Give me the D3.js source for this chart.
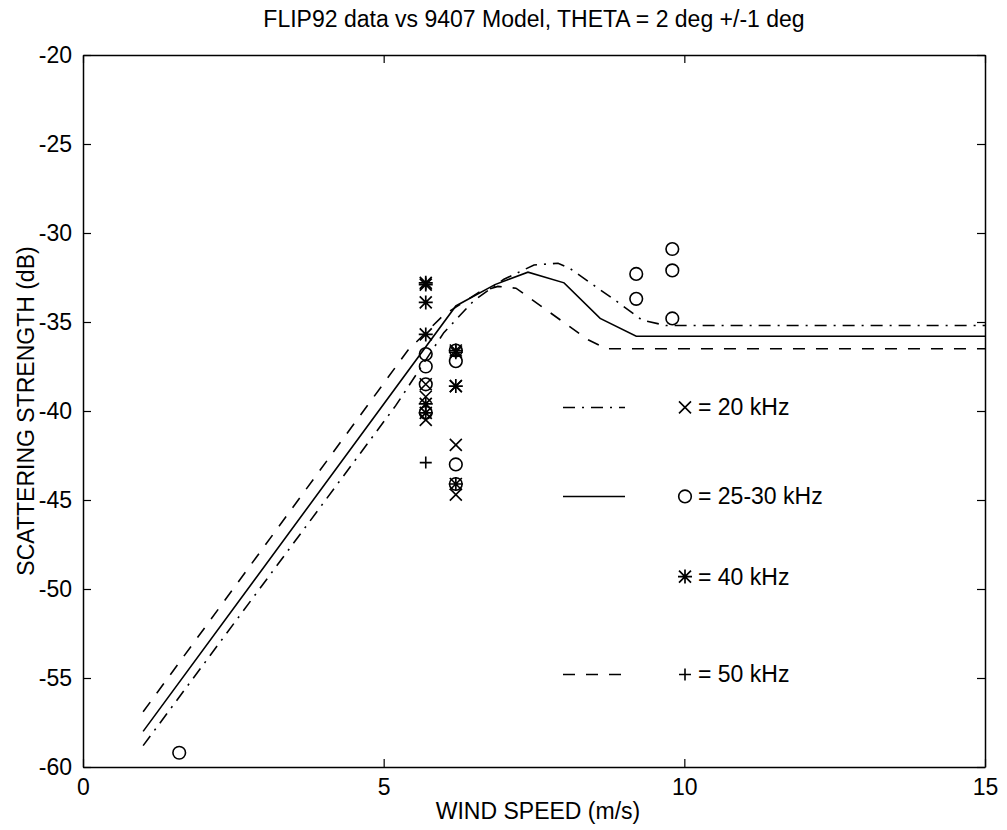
<!DOCTYPE html>
<html><head><meta charset="utf-8">
<script src="https://cdn.jsdelivr.net/npm/d3@7"></script>
<style>body{margin:0;background:#fff}svg{display:block}text{font-family:"Liberation Sans",Arial,Helvetica,sans-serif;fill:#000}</style>
</head><body><div id="chart"></div>
<script>
const titleText = "FLIP92 data vs 9407 Model, THETA = 2 deg +/-1 deg";
const xLabelText = "WIND SPEED (m/s)";
const yLabelText = "SCATTERING STRENGTH (dB)";
const xTicks = [0, 5, 10, 15];
const yTicks = [-20, -25, -30, -35, -40, -45, -50, -55, -60];

// model curves
const model20 = [[1,-58.8],[5.2,-39.7],[6.0,-35.6],[6.5,-33.8],[7.0,-32.6],[7.5,-31.8],[7.9,-31.7],[8.1,-32.0],[8.9,-33.9],[9.3,-34.9],[9.7,-35.2],[15,-35.2]];
const model25 = [[1,-58.0],[6.2,-34.1],[6.85,-32.9],[7.4,-32.2],[8.0,-32.8],[8.6,-34.8],[9.2,-35.8],[15,-35.8]];
const model50 = [[1,-56.9],[5.4,-36.6],[6.0,-34.6],[6.6,-33.3],[6.9,-33.0],[7.2,-33.1],[8.4,-36.0],[8.7,-36.5],[15,-36.5]];

// measured data
const data20 = [[5.7,-38.5],[5.7,-39.2],[5.7,-40.5],[6.2,-38.6],[6.2,-41.9],[6.2,-44.7]];
const data25 = [[1.6,-59.2],[5.7,-36.8],[5.7,-37.5],[5.7,-38.5],[5.7,-40.1],[6.2,-36.6],[6.2,-37.2],[6.2,-43.0],[6.2,-44.1],[9.2,-32.3],[9.2,-33.7],[9.8,-30.9],[9.8,-32.1],[9.8,-34.8]];
const data40 = [[5.7,-32.8],[5.7,-32.9],[5.7,-33.9],[5.7,-35.7],[5.7,-39.6],[5.7,-40.1],[6.2,-36.6],[6.2,-36.7],[6.2,-38.6],[6.2,-44.1]];
const data50 = [[5.7,-42.9]];

const legendLabels = ["= 20 kHz", "= 25-30 kHz", "= 40 kHz", "= 50 kHz"];
const legendY = [-39.8, -44.8, -49.3, -54.8];

const W = 1007, H = 830;
const m = {left: 83, right: 1007-985, top: 55, bottom: 830-767};
const FS = 23;
const svg = d3.select("#chart").append("svg").attr("width", W).attr("height", H);
const x = d3.scaleLinear().domain([0, 15]).range([m.left, W - m.right]);
const y = d3.scaleLinear().domain([-60, -20]).range([H - m.bottom, m.top]);

// axes box
const g = svg.append("g");
const fmt = d => String(d);
const axB = d3.axisBottom(x).tickValues(xTicks).tickSizeInner(-8).tickSizeOuter(0).tickPadding(12).tickFormat(fmt);
const axT = d3.axisTop(x).tickValues(xTicks).tickSizeInner(-8).tickSizeOuter(0).tickFormat("");
const axL = d3.axisLeft(y).tickValues(yTicks).tickSizeInner(-8).tickSizeOuter(0).tickPadding(11).tickFormat(fmt);
const axR = d3.axisRight(y).tickValues(yTicks).tickSizeInner(-8).tickSizeOuter(0).tickFormat("");
function style(sel){ sel.selectAll("path").attr("stroke","#000").attr("stroke-width",1.5); sel.selectAll("line").attr("stroke","#000").attr("stroke-width",1.2); sel.selectAll("text").style("font-size",FS+"px").attr("fill","#000"); }
g.append("g").attr("transform",`translate(0,${H-m.bottom})`).call(axB).call(style);
g.append("g").attr("transform",`translate(0,${m.top})`).call(axT).call(style);
g.append("g").attr("transform",`translate(${m.left},0)`).call(axL).call(style);
g.append("g").attr("transform",`translate(${W-m.right},0)`).call(axR).call(style);

// title & labels
svg.append("text").attr("x", (x(0)+x(15))/2).attr("y", 27).attr("text-anchor","middle").style("font-size",FS+"px").text(titleText);
svg.append("text").attr("x", (x(0)+x(15))/2 + 4).attr("y", 819).attr("text-anchor","middle").style("font-size",FS+"px").text(xLabelText);
svg.append("text").attr("transform",`translate(34,${(y(-20)+y(-60))/2}) rotate(-90)`).attr("text-anchor","middle").style("font-size",FS+"px").text(yLabelText);

// lines
const line = d3.line().x(d => x(d[0])).y(d => y(d[1]));
const DASHDOT = "12,7,2,7", DASHED = "12,11";
const styles = [
  {data: model20, dash: DASHDOT},
  {data: model25, dash: null},
  {data: model50, dash: DASHED}
];
styles.forEach(s => {
  svg.append("path").datum(s.data).attr("d", line).attr("fill","none").attr("stroke","#000")
    .attr("stroke-width",1.6).attr("stroke-dasharray", s.dash);
});

// markers
function drawMarker(sel, type, cx, cy){
  const k = 6;
  const sw = 1.6;
  if (type === "x") {
    sel.append("path").attr("d",`M${cx-k},${cy-k}L${cx+k},${cy+k}M${cx-k},${cy+k}L${cx+k},${cy-k}`).attr("stroke","#000").attr("stroke-width",sw).attr("fill","none");
  } else if (type === "o") {
    sel.append("circle").attr("cx",cx).attr("cy",cy).attr("r",6.3).attr("stroke","#000").attr("stroke-width",sw).attr("fill","none");
  } else if (type === "*") {
    sel.append("path").attr("d",`M${cx-k},${cy-k}L${cx+k},${cy+k}M${cx-k},${cy+k}L${cx+k},${cy-k}M${cx},${cy-k-1}L${cx},${cy+k+1}M${cx-k-1},${cy}L${cx+k+1},${cy}`).attr("stroke","#000").attr("stroke-width",1.7).attr("fill","none");
  } else if (type === "+") {
    sel.append("path").attr("d",`M${cx},${cy-k}L${cx},${cy+k}M${cx-k},${cy}L${cx+k},${cy}`).attr("stroke","#000").attr("stroke-width",sw).attr("fill","none");
  }
}
const mg = svg.append("g");
[[data20,"x"],[data25,"o"],[data40,"*"],[data50,"+"]].forEach(([arr,t]) => arr.forEach(d => drawMarker(mg, t, x(d[0]), y(d[1]))));

// legend
const legTypes = ["x","o","*","+"];
const legDash = [DASHDOT, null, null, DASHED];
const lg = svg.append("g");
legendLabels.forEach((lab, i) => {
  const yy = y(legendY[i]);
  if (i !== 2) {
    lg.append("line").attr("x1", 563).attr("x2", 625).attr("y1", yy).attr("y2", yy)
      .attr("stroke","#000").attr("stroke-width",1.6).attr("stroke-dasharray", legDash[i]);
  }
  drawMarker(lg, legTypes[i], 685, yy);
  lg.append("text").attr("x", 698).attr("y", yy + 8).style("font-size",FS+"px").text(lab);
});
</script></body></html>
